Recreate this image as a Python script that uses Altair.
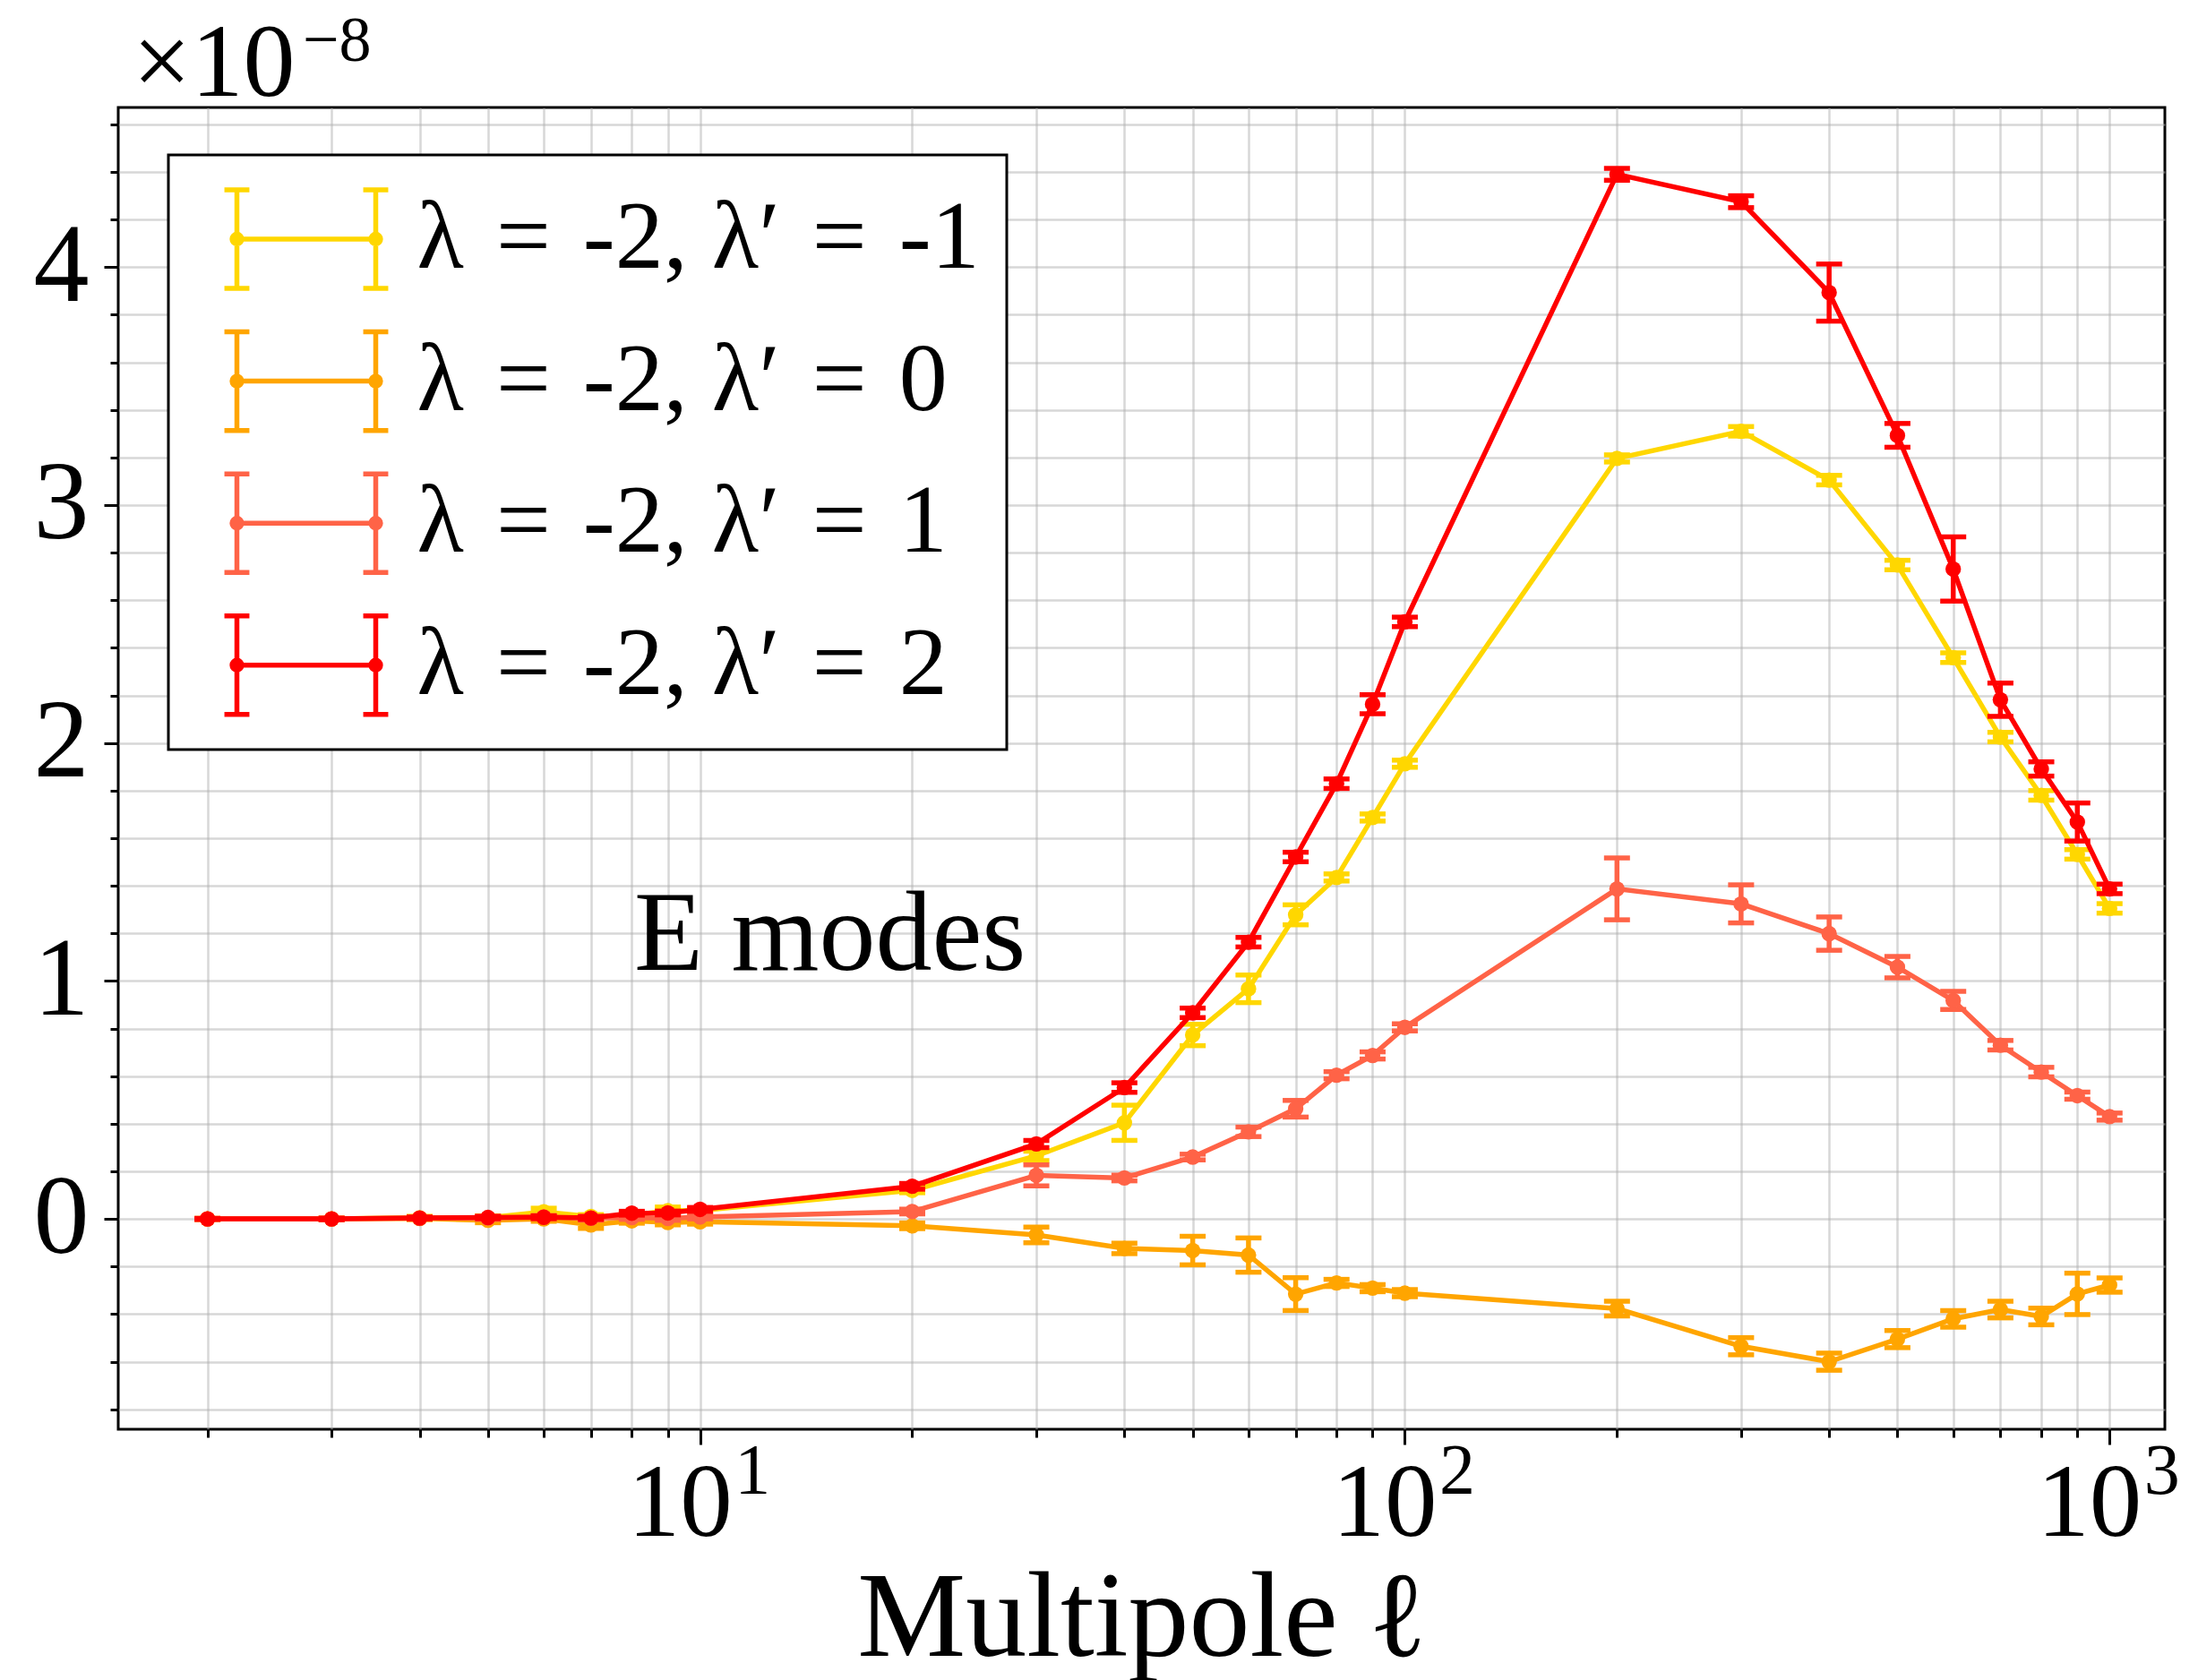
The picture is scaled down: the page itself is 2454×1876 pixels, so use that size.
import altair as alt
import pandas as pd

FONT = "Liberation Serif"

# ---------------- data (values in units of 1e-8) ----------------
ell = [2, 3, 4, 5, 6, 7, 8, 9, 10, 20, 30, 40, 50, 60, 70, 80, 90, 100,
       200, 300, 400, 500, 600, 700, 800, 900, 1000]

SP = "\u2004"
series_labels = [f"λ{SP}={SP}-2, λ′{SP}={SP}-1", f"λ{SP}={SP}-2, λ′{SP}={SP}0",
                 f"λ{SP}={SP}-2, λ′{SP}={SP}1", f"λ{SP}={SP}-2, λ′{SP}={SP}2"]
series_colors = ["#FFD700", "#FFA500", "#FF6347", "#FF0000"]

cl_m1 = [0.0, 0.0, 0.005, 0.005, 0.03, 0.01, 0.015, 0.035, 0.035,
         0.12, 0.265, 0.404, 0.773, 0.967, 1.278, 1.435, 1.687, 1.913,
         3.196, 3.31, 3.105, 2.748, 2.359, 2.025, 1.78, 1.532, 1.305]
err_m1 = [0.002, 0.003, 0.006, 0.008, 0.015, 0.008, 0.01, 0.015, 0.01,
          0.01, 0.02, 0.074, 0.045, 0.058, 0.042, 0.015, 0.015, 0.015,
          0.015, 0.02, 0.02, 0.02, 0.02, 0.02, 0.02, 0.02, 0.02]

cl_0 = [0.0, 0.0, 0.002, -0.006, 0.0, -0.025, -0.008, -0.015, -0.012,
        -0.029, -0.067, -0.124, -0.133, -0.152, -0.316, -0.269, -0.291, -0.312,
        -0.377, -0.535, -0.6, -0.505, -0.42, -0.381, -0.41, -0.315, -0.278]
err_0 = [0.002, 0.003, 0.005, 0.01, 0.01, 0.015, 0.01, 0.01, 0.01,
         0.012, 0.033, 0.022, 0.06, 0.072, 0.069, 0.015, 0.015, 0.015,
         0.031, 0.036, 0.036, 0.036, 0.035, 0.035, 0.035, 0.087, 0.03]

cl_p1 = [0.0, 0.0, 0.003, 0.004, 0.008, 0.003, 0.006, 0.002, 0.008,
         0.031, 0.183, 0.172, 0.26, 0.366, 0.463, 0.604, 0.687, 0.805,
         1.387, 1.324, 1.199, 1.058, 0.918, 0.73, 0.617, 0.518, 0.43]
err_p1 = [0.002, 0.003, 0.004, 0.006, 0.006, 0.008, 0.008, 0.008, 0.008,
          0.01, 0.044, 0.012, 0.012, 0.02, 0.035, 0.015, 0.015, 0.015,
          0.13, 0.08, 0.07, 0.045, 0.038, 0.02, 0.02, 0.015, 0.015]

cl_p2 = [0.0, 0.0, 0.004, 0.006, 0.007, 0.004, 0.024, 0.025, 0.04,
         0.137, 0.315, 0.552, 0.866, 1.163, 1.521, 1.829, 2.163, 2.509,
         4.39, 4.275, 3.893, 3.293, 2.731, 2.182, 1.891, 1.668, 1.387]
err_p2 = [0.002, 0.003, 0.004, 0.005, 0.006, 0.006, 0.008, 0.008, 0.008,
          0.012, 0.015, 0.02, 0.02, 0.02, 0.02, 0.02, 0.04, 0.02,
          0.025, 0.025, 0.12, 0.05, 0.135, 0.07, 0.03, 0.08, 0.02]

values = [cl_m1, cl_0, cl_p1, cl_p2]
errors = [err_m1, err_0, err_p1, err_p2]

x_tick_values = [2, 3, 4, 5, 6, 7, 8, 9, 10, 20, 30, 40, 50, 60, 70, 80, 90,
                 100, 200, 300, 400, 500, 600, 700, 800, 900, 1000]
x_decades = [10, 100, 1000]
y_tick_values = [-0.8, -0.6, -0.4, -0.2, 0.0, 0.2, 0.4, 0.6, 0.8, 1.0, 1.2, 1.4,
                 1.6, 1.8, 2.0, 2.2, 2.4, 2.6, 2.8, 3.0, 3.2, 3.4, 3.6, 3.8,
                 4.0, 4.2, 4.4, 4.6]

rows = []
for lab, vals, errs in zip(series_labels, values, errors):
    for l, v, e in zip(ell, vals, errs):
        rows.append({"ell": l, "val": v, "lo": v - e, "hi": v + e, "series": lab})
df = pd.DataFrame(rows)

# ---------------- scales / axes ----------------
X_SCALE = alt.Scale(type="log", domain=[1.494, 1198], nice=False)
Y_SCALE = alt.Scale(domain=[-0.884, 4.671], nice=False, zero=False)
COLOR_SCALE = alt.Scale(domain=series_labels, range=series_colors)

GRID_COLOR = "#b0b0b0"

y_axis = alt.Axis(
    values=y_tick_values, grid=True, gridColor=GRID_COLOR, gridOpacity=0.5, gridWidth=2.5,
    domain=False, ticks=True, tickColor="black", tickWidth=3,
    tickSize={"condition": {"test": "abs(datum.value - round(datum.value)) < 1e-6", "value": 16}, "value": 9},
    labelExpr="abs(datum.value - round(datum.value)) < 1e-6 ? format(round(datum.value), 'd') : ''",
    labelFont=FONT, labelFontSize=124, labelColor="black", labelPadding=17,
    labelAlign="right", labelBaseline="middle", labelOverlap=False, labelFlush=False,
    title=None,
)

x_axis_grid = alt.Axis(
    orient="bottom", values=x_tick_values, grid=True, gridColor=GRID_COLOR, gridOpacity=0.5,
    gridWidth=2.5, domain=False, ticks=True, tickColor="black", tickWidth=3,
    tickSize={"condition": {"test": "indexof([10, 100, 1000], datum.value) >= 0", "value": 17}, "value": 9},
    labels=False, title=None,
)

x_axis_base = alt.Axis(
    orient="bottom", values=x_decades, grid=False, domain=False, ticks=False,
    labelExpr="'10'", labelFont=FONT, labelFontSize=117, labelColor="black",
    labelBaseline="alphabetic", labelPadding=118, labelOffset=-23,
    labelOverlap=False, labelFlush=False,
    title="Multipole ℓ", titleFont=FONT, titleFontSize=136, titleFontWeight="normal",
    titleColor="black", titleBaseline="alphabetic", titleY=252, titleX=1142.5,
    titleAlign="center",
)

x_axis_exp = alt.Axis(
    orient="bottom", values=x_decades, grid=False, domain=False, ticks=False,
    labelExpr="format(round(log(datum.value) / LN10), 'd')",
    labelFont=FONT, labelFontSize=80, labelColor="black",
    labelBaseline="alphabetic", labelPadding=71, labelAlign="left", labelOffset=38,
    labelOverlap=False, labelFlush=False, title=None,
)

# legend symbol: error bar glyph (line, two bars with caps, two dots)
SYMBOL_PATH = (
    "M-1,0H1"
    "M-1,-0.71V0.71M1,-0.71V0.71"
    "M-1.18,-0.71H-0.82M-1.18,0.71H-0.82M0.82,-0.71H1.18M0.82,0.71H1.18"
    "M-0.93,0A0.07,0.07,0,1,1,-1.07,0A0.07,0.07,0,1,1,-0.93,0"
    "M-0.97,0A0.03,0.03,0,1,1,-1.03,0A0.03,0.03,0,1,1,-0.97,0"
    "M1.07,0A0.07,0.07,0,1,1,0.93,0A0.07,0.07,0,1,1,1.07,0"
    "M1.03,0A0.03,0.03,0,1,1,0.97,0A0.03,0.03,0,1,1,1.03,0"
)

LW = 5.5

legend = alt.Legend(
    title=None, orient="none", legendX=56, legendY=53,
    symbolType=SYMBOL_PATH, symbolSize=24025, symbolStrokeWidth=LW,
    symbolOffset=43.5, labelOffset=43, clipHeight=128, rowPadding=30.6, padding=30,
    labelFont=FONT, labelFontSize=108, labelColor="black", labelLimit=2000,
    fillColor="white", strokeColor="black", cornerRadius=0,
)

layers = []

# invisible layers carrying the x axes
for ax in (x_axis_grid, x_axis_base, x_axis_exp):
    layers.append(
        alt.Chart(df).mark_point(opacity=0).encode(
            x=alt.X("ell:Q", scale=X_SCALE, axis=ax),
            y=alt.Y("val:Q", scale=Y_SCALE, axis=y_axis),
        )
    )

for lab, col in zip(series_labels, series_colors):
    d = df[df["series"] == lab]
    base = alt.Chart(d)
    xenc = alt.X("ell:Q", scale=X_SCALE, axis=None)
    layers.append(base.mark_rule(strokeWidth=LW, color=col).encode(
        x=xenc, y=alt.Y("lo:Q", scale=Y_SCALE, axis=y_axis), y2="hi:Q"))
    layers.append(base.mark_tick(orient="horizontal", size=29, thickness=LW, opacity=1, color=col).encode(
        x=xenc, y=alt.Y("lo:Q", scale=Y_SCALE, axis=y_axis)))
    layers.append(base.mark_tick(orient="horizontal", size=29, thickness=LW, opacity=1, color=col).encode(
        x=xenc, y=alt.Y("hi:Q", scale=Y_SCALE, axis=y_axis)))
    layers.append(base.mark_line(strokeWidth=LW).encode(
        x=xenc, y=alt.Y("val:Q", scale=Y_SCALE, axis=y_axis),
        color=alt.Color("series:N", scale=COLOR_SCALE, legend=legend)))
    layers.append(base.mark_circle(size=300, opacity=1, color=col).encode(
        x=xenc, y=alt.Y("val:Q", scale=Y_SCALE, axis=y_axis)))

# annotation "E modes"
ann = pd.DataFrame({"ell": [8.06], "val": [1.047], "t": ["E modes"]})
layers.append(
    alt.Chart(ann).mark_text(align="left", baseline="alphabetic", font=FONT,
                             fontSize=126, color="black").encode(
        x=alt.X("ell:Q", scale=X_SCALE, axis=None),
        y=alt.Y("val:Q", scale=Y_SCALE, axis=y_axis),
        text="t:N",
    )
)

# offset text "×10^-8"
mult = pd.DataFrame({"t": ["×10"]})
expo = pd.DataFrame({"t": ["−8"]})
layers.append(
    alt.Chart(mult).mark_text(align="left", baseline="alphabetic", font=FONT,
                              fontSize=116, color="black").encode(
        x=alt.value(16), y=alt.value(-13), text="t:N")
)
layers.append(
    alt.Chart(expo).mark_text(align="left", baseline="alphabetic", font=FONT,
                              fontSize=72, color="black").encode(
        x=alt.value(206), y=alt.value(-52), text="t:N")
)

chart = (
    alt.layer(*layers)
    .resolve_axis(x="independent")
    .properties(
        width=2285, height=1476,
        autosize=alt.AutoSizeParams(type="none"),
        padding={"left": 132, "top": 120, "right": 37, "bottom": 280},
        background="white",
    )
    .configure_view(stroke="black", strokeWidth=3)
    .configure_legend(strokeWidth=3)
)

chart.save("out.html", embed_options={"renderer": "svg", "actions": False})
